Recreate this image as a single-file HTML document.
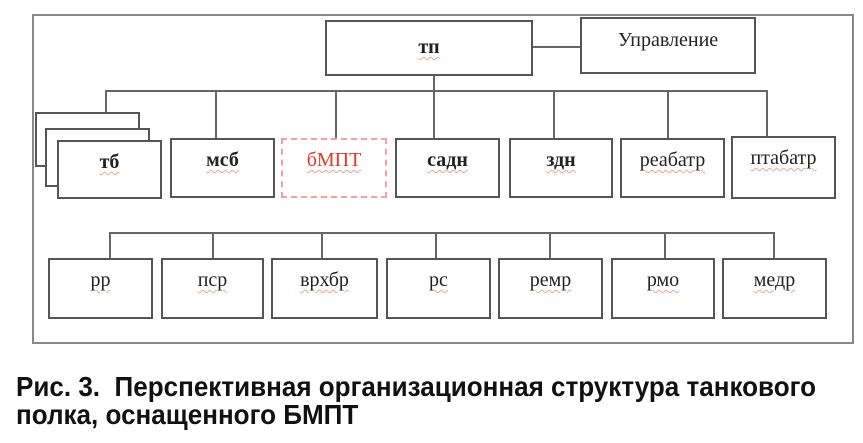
<!DOCTYPE html>
<html><head><meta charset="utf-8"><style>
body{margin:0;background:#fff;width:863px;height:443px;overflow:hidden;position:relative;font-family:"Liberation Serif",serif}
.b{position:absolute;box-sizing:border-box;border:2px solid #555;background:#fff;text-align:center;font-size:20px;color:#222;padding-top:9px}
.l{position:absolute;background:#666}
u{text-decoration:underline wavy #f0a0a0 1px;text-underline-offset:3px}
.cap{position:absolute;left:16px;font-family:"Liberation Sans",sans-serif;font-weight:bold;font-size:28px;color:#111;transform-origin:0 0;white-space:nowrap}
</style></head><body>
<div style="position:absolute;left:32px;top:14px;width:822px;height:330px;box-sizing:border-box;border:2px solid #888"></div>
<div class="b" style="left:325px;top:20px;width:208px;height:56px;padding-top:14px;font-weight:bold"><u>тп</u></div>
<div class="b" style="left:580px;top:17px;width:176px;height:57px;padding-top:10px">Управление</div>
<div class="l" style="left:533px;top:46px;width:47px;height:2px"></div>
<div class="l" style="left:433px;top:76px;width:2px;height:15px"></div>
<div class="l" style="left:105px;top:90px;width:663px;height:2px"></div>
<div class="l" style="left:105px;top:90px;width:2px;height:22px"></div>
<div class="l" style="left:215px;top:90px;width:2px;height:48px"></div>
<div class="l" style="left:335px;top:90px;width:2px;height:48px"></div>
<div class="l" style="left:433px;top:90px;width:2px;height:48px"></div>
<div class="l" style="left:553px;top:90px;width:2px;height:48px"></div>
<div class="l" style="left:667px;top:90px;width:2px;height:48px"></div>
<div class="l" style="left:766px;top:90px;width:2px;height:46px"></div>
<div class="b" style="left:35px;top:112px;width:105px;height:55px"></div>
<div class="b" style="left:45px;top:128px;width:105px;height:59px"></div>
<div class="b" style="left:57px;top:140px;width:105px;height:59px;font-weight:bold"><u>тб</u></div>
<div class="b" style="left:170px;top:138px;width:105px;height:60px;font-weight:bold"><u>мсб</u></div>
<div class="b" style="left:281px;top:138px;width:106px;height:60px;border:2px dashed #f4a0a0;color:#e03a2a"><u>бМПТ</u></div>
<div class="b" style="left:395px;top:138px;width:105px;height:60px;font-weight:bold"><u>садн</u></div>
<div class="b" style="left:509px;top:138px;width:104px;height:60px;font-weight:bold"><u>здн</u></div>
<div class="b" style="left:620px;top:138px;width:105px;height:60px"><u>реабатр</u></div>
<div class="b" style="left:731px;top:136px;width:105px;height:63px"><u>птабатр</u></div>
<div class="l" style="left:109px;top:232px;width:666px;height:2px"></div>
<div class="l" style="left:109px;top:232px;width:2px;height:26px"></div>
<div class="l" style="left:212px;top:232px;width:2px;height:26px"></div>
<div class="l" style="left:321px;top:232px;width:2px;height:26px"></div>
<div class="l" style="left:435px;top:232px;width:2px;height:26px"></div>
<div class="l" style="left:549px;top:232px;width:2px;height:26px"></div>
<div class="l" style="left:664px;top:232px;width:2px;height:26px"></div>
<div class="l" style="left:773px;top:232px;width:2px;height:26px"></div>
<div class="b" style="left:48px;top:258px;width:105px;height:61px"><u>рр</u></div>
<div class="b" style="left:161px;top:258px;width:103px;height:61px"><u>пср</u></div>
<div class="b" style="left:271px;top:258px;width:107px;height:61px"><u>врхбр</u></div>
<div class="b" style="left:386px;top:258px;width:105px;height:61px"><u>рс</u></div>
<div class="b" style="left:498px;top:258px;width:105px;height:61px"><u>ремр</u></div>
<div class="b" style="left:611px;top:258px;width:104px;height:61px"><u>рмо</u></div>
<div class="b" style="left:722px;top:258px;width:105px;height:61px"><u>медр</u></div>
<div class="cap" style="top:371px;transform:scaleX(0.93)">Рис. 3.&nbsp; Перспективная организационная структура танкового</div>
<div class="cap" style="top:399px;transform:scaleX(0.93)">полка, оснащенного БМПТ</div>
</body></html>
